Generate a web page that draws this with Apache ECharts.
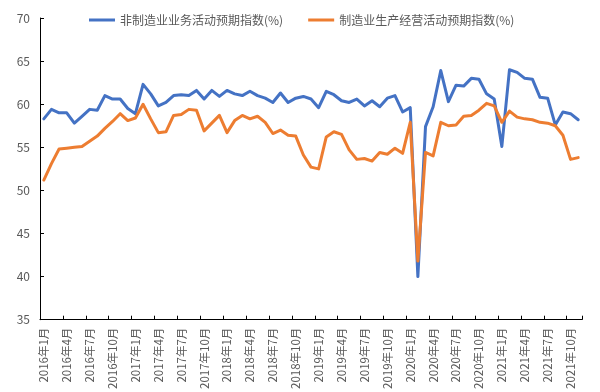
<!DOCTYPE html>
<html>
<head>
<meta charset="utf-8">
<script src="https://cdn.jsdelivr.net/npm/echarts@6/dist/echarts.min.js"></script>
<style>
html,body{margin:0;padding:0;background:#fff;}
#chart{width:600px;height:392px;}
</style>
</head>
<body>
<div id="chart"></div>
<script>
var categories = [
"2016年1月","2016年2月","2016年3月","2016年4月","2016年5月","2016年6月","2016年7月","2016年8月","2016年9月","2016年10月","2016年11月","2016年12月",
"2017年1月","2017年2月","2017年3月","2017年4月","2017年5月","2017年6月","2017年7月","2017年8月","2017年9月","2017年10月","2017年11月","2017年12月",
"2018年1月","2018年2月","2018年3月","2018年4月","2018年5月","2018年6月","2018年7月","2018年8月","2018年9月","2018年10月","2018年11月","2018年12月",
"2019年1月","2019年2月","2019年3月","2019年4月","2019年5月","2019年6月","2019年7月","2019年8月","2019年9月","2019年10月","2019年11月","2019年12月",
"2020年1月","2020年2月","2020年3月","2020年4月","2020年5月","2020年6月","2020年7月","2020年8月","2020年9月","2020年10月","2020年11月","2020年12月",
"2021年1月","2021年2月","2021年3月","2021年4月","2021年5月","2021年6月","2021年7月","2021年8月","2021年9月","2021年10月","2021年11月"
];
var seriesNames = ["非制造业业务活动预期指数(%)", "制造业生产经营活动预期指数(%)"];
var nonManufacturing = [
58.3,59.4,59.0,59.0,57.8,58.6,59.4,59.3,61.0,60.6,60.6,59.5,
58.9,62.3,61.2,59.8,60.2,61.0,61.1,61.0,61.6,60.6,61.6,60.9,
61.6,61.2,61.0,61.5,61.0,60.7,60.2,61.3,60.2,60.7,60.9,60.6,
59.6,61.5,61.1,60.4,60.2,60.6,59.8,60.4,59.7,60.7,61.0,59.1,
59.6,40.0,57.4,59.7,63.9,60.3,62.2,62.1,63.0,62.9,61.2,60.6,
55.1,64.0,63.7,63.0,62.9,60.8,60.7,57.6,59.1,58.9,58.2
];
var manufacturing = [
51.2,53.1,54.8,54.9,55.0,55.1,55.7,56.3,57.2,58.0,58.9,58.1,
58.4,60.0,58.3,56.7,56.8,58.7,58.8,59.4,59.3,56.9,57.8,58.7,
56.7,58.1,58.7,58.3,58.6,57.9,56.6,57.0,56.4,56.3,54.1,52.7,
52.5,56.2,56.8,56.5,54.7,53.6,53.7,53.4,54.4,54.2,54.9,54.3,
57.9,41.8,54.4,54.0,57.9,57.5,57.6,58.6,58.7,59.3,60.1,59.8,
57.9,59.2,58.5,58.3,58.2,57.9,57.8,57.5,56.4,53.6,53.8
];
var yMin = 35, yMax = 70, yStep = 5;

var font = '"Noto Sans CJK SC", "Noto Sans", sans-serif';
var chart = echarts.init(document.getElementById('chart'), null, {renderer:'canvas'});
chart.setOption({
  animation: false,
  backgroundColor: '#fff',
  legend: {
    left: 84, top: 9,
    itemWidth: 26, itemHeight: 3, itemGap: 25,
    icon: 'rect',
    textStyle: {color: '#595959', fontSize: 12, fontFamily: font},
    data: seriesNames
  },
  grid: {left: 40, right: 18, top: 18, bottom: 72, containLabel: false},
  xAxis: {
    type: 'category',
    data: categories,
    boundaryGap: true,
    axisLine: {lineStyle: {color: '#000', width: 1}},
    axisTick: {show: true, inside: true, length: 4, interval: 2, lineStyle: {color: '#000'}},
    axisLabel: {interval: 2, rotate: 90, margin: 8, color: '#595959', fontSize: 11.5, fontFamily: font},
    splitLine: {show: false}
  },
  yAxis: {
    type: 'value',
    min: yMin, max: yMax, interval: yStep,
    axisLine: {show: true, lineStyle: {color: '#000', width: 1}},
    axisTick: {show: true, inside: true, length: 4, lineStyle: {color: '#000'}},
    axisLabel: {margin: 10, color: '#595959', fontSize: 12, fontFamily: font},
    splitLine: {show: false}
  },
  series: [
    {
      name: seriesNames[0], type: 'line', data: nonManufacturing,
      showSymbol: false, symbol: 'none',
      itemStyle: {color: '#4472C4'},
      lineStyle: {color: '#4472C4', width: 3, join: 'round', cap: 'round'}
    },
    {
      name: seriesNames[1], type: 'line', data: manufacturing,
      showSymbol: false, symbol: 'none',
      itemStyle: {color: '#ED7D31'},
      lineStyle: {color: '#ED7D31', width: 3, join: 'round', cap: 'round'}
    }
  ]
});
</script>
</body>
</html>
